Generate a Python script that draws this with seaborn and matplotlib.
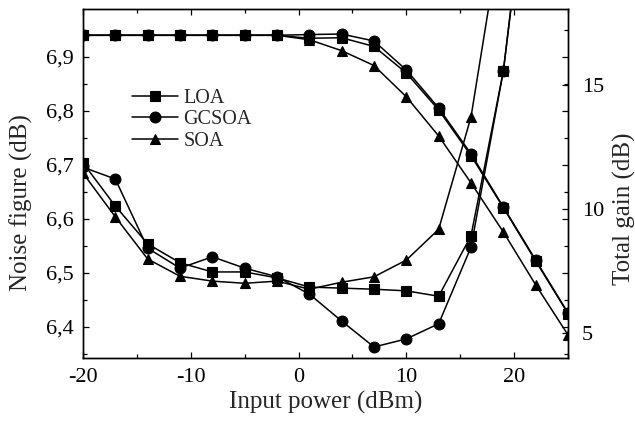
import matplotlib
matplotlib.use("Agg")
import matplotlib.pyplot as plt
import pandas as pd
import seaborn as sns
from matplotlib.ticker import MultipleLocator, FuncFormatter
from matplotlib.lines import Line2D

# ---------------- data ----------------
devices = ["LOA", "GCSOA", "SOA"]

# Noise figure (left axis, dB)
power_nf = [-20, -17, -14, -11, -8, -5, -2, 1, 4, 7, 10, 13, 16, 19, 22]
nf_loa   = [6.704, 6.624, 6.554, 6.519, 6.502, 6.502, 6.491, 6.474, 6.472,
            6.470, 6.467, 6.457, 6.569, 6.874, 7.37]
nf_gcsoa = [6.696, 6.674, 6.546, 6.509, 6.530, 6.509, 6.493, 6.461, 6.411,
            6.363, 6.378, 6.406, 6.548, 6.874, 7.37]
nf_soa   = [6.685, 6.604, 6.526, 6.494, 6.485, 6.481, 6.485, 6.470, 6.483,
            6.493, 6.524, 6.581, 6.789, 7.16, 7.60]

# Total gain (right axis, dB)
power_gain = [-20, -17, -14, -11, -8, -5, -2, 1, 4, 7, 10, 13, 16, 19, 22, 25]
gain_loa   = [17.0, 17.0, 17.0, 17.0, 17.0, 17.0, 17.0, 16.88, 16.9, 16.55,
              15.48, 13.99, 12.15, 10.05, 7.90, 5.78]
gain_gcsoa = [17.0, 17.0, 17.0, 17.0, 17.0, 17.0, 17.0, 17.03, 17.05, 16.77,
              15.60, 14.07, 12.22, 10.08, 7.94, 5.81]
gain_soa   = [17.0, 17.0, 17.0, 17.0, 17.0, 17.0, 17.0, 16.82, 16.38, 15.78,
              14.52, 12.94, 11.05, 9.07, 6.94, 4.92]

nf_values = {"LOA": nf_loa, "GCSOA": nf_gcsoa, "SOA": nf_soa}
gain_values = {"LOA": gain_loa, "GCSOA": gain_gcsoa, "SOA": gain_soa}

nf_df = pd.concat([pd.DataFrame({"power": power_nf, "value": nf_values[d], "device": d})
                   for d in devices], ignore_index=True)
gain_df = pd.concat([pd.DataFrame({"power": power_gain, "value": gain_values[d], "device": d})
                     for d in devices], ignore_index=True)

markers = {"LOA": "s", "GCSOA": "o", "SOA": "^"}
msize = {"LOA": 6.8, "GCSOA": 7.8, "SOA": 7.8}

# ---------------- style ----------------
sns.set_style("ticks")
plt.rcParams["font.family"] = ["Liberation Serif", "DejaVu Serif"]
plt.rcParams["axes.unicode_minus"] = False

fig = plt.figure(figsize=(6.35, 4.26), dpi=100)
ax1 = fig.add_axes([0.1307, 0.1596, 0.7638, 0.8193])
ax2 = ax1.twinx()

line_kw = dict(color="black", linewidth=1.1, markeredgecolor="black",
               markerfacecolor="black", markeredgewidth=0.8)

for d in devices:
    sub = nf_df[nf_df["device"] == d]
    sns.lineplot(data=sub, x="power", y="value", ax=ax1, marker=markers[d],
                 markersize=msize[d], legend=False, sort=False, **line_kw)
    sub = gain_df[gain_df["device"] == d]
    sns.lineplot(data=sub, x="power", y="value", ax=ax2, marker=markers[d],
                 markersize=msize[d], legend=False, sort=False, **line_kw)

ax1.set_xlim(-20, 25)
ax1.set_ylim(6.3426, 6.989)
ax2.set_ylim(3.99, 18.06)

comma = FuncFormatter(lambda v, p: f"{v:.1f}".replace(".", ","))
ax1.xaxis.set_major_locator(MultipleLocator(10))
ax1.xaxis.set_minor_locator(MultipleLocator(5))
ax1.yaxis.set_major_locator(MultipleLocator(0.1))
ax1.yaxis.set_minor_locator(MultipleLocator(0.05))
ax1.yaxis.set_major_formatter(comma)
ax2.yaxis.set_major_locator(MultipleLocator(5))

ax1.tick_params(axis="both", which="both", direction="in", top=True, right=True,
                labelsize=16, width=0.9, colors="black")
ax1.tick_params(which="major", length=4.5)
ax1.tick_params(which="minor", length=3)
ax1.tick_params(axis="x", pad=7)
ax1.tick_params(axis="y", pad=7)
ax2.tick_params(axis="y", which="both", direction="in", length=4.5, width=0.9,
                labelsize=16, pad=10, colors="black")

for ax in (ax1, ax2):
    for s in ax.spines.values():
        s.set_linewidth(1.0)
        s.set_color("black")

ax1.set_xlabel("Input power (dBm)", fontsize=18, labelpad=3)
ax1.set_ylabel("Noise figure (dB)", fontsize=18)
ax2.set_ylabel("Total gain (dB)", fontsize=18)
ax1.yaxis.set_label_coords(-0.103, 0.444)
ax2.yaxis.set_label_coords(1.093, 0.427)

handles = [Line2D([], [], marker=markers[d], markersize=msize[d], label=d, **line_kw)
           for d in devices]
ax1.legend(handles=handles, loc="upper left", bbox_to_anchor=(0.101, 0.772),
           frameon=False, fontsize=14.5, handlelength=2.3, handletextpad=0.25,
           labelspacing=0.12, borderpad=0, borderaxespad=0)

fig.savefig("out.png", dpi=100)
